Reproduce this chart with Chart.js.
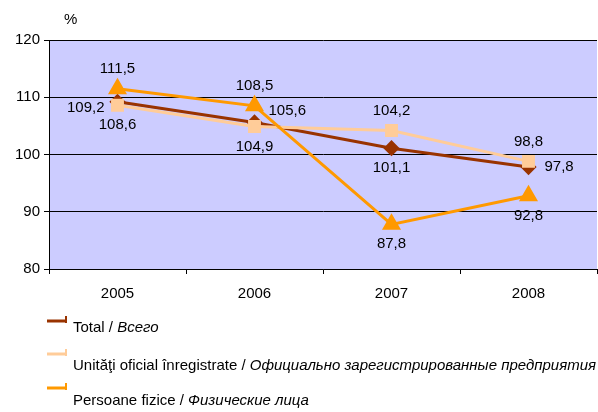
<!DOCTYPE html>
<html>
<head>
<meta charset="utf-8">
<script src="https://cdn.jsdelivr.net/npm/chart.js@4"></script>
<style>
  html, body { margin: 0; padding: 0; background: #fff; }
  #wrap { position: relative; width: 598px; height: 412px; }
</style>
</head>
<body>
<div id="wrap"><canvas id="myChart" width="598" height="412"></canvas></div>
<script>
  // Datos
  var years = ['2005', '2006', '2007', '2008'];
  var total = [109.2, 105.6, 101.1, 97.8];
  var oficial = [108.6, 104.9, 104.2, 98.8];
  var fizice = [111.5, 108.5, 87.8, 92.8];
  var yTicks = [80, 90, 100, 110, 120];

  var names = [
    ['Total / ', 'Всего'],
    ['Unităţi oficial înregistrate / ', 'Официально зарегистрированные предприятия'],
    ['Persoane fizice / ', 'Физические лица']
  ];
  var colors = ['#993300', '#FFCC99', '#FF9900'];

  // where each value label sits next to its point
  var labelPos = [
    ['left', 'rightUp', 'below', 'right'],
    ['below', 'below', 'above', 'above'],
    ['above', 'above', 'below', 'below']
  ];

  var FONT = '"Liberation Sans", Arial, sans-serif';

  var bgPlugin = {
    id: 'bg',
    beforeDraw: function (chart) {
      var a = chart.chartArea, c = chart.ctx;
      c.save();
      c.fillStyle = '#CCCCFF';
      c.fillRect(a.left, a.top, a.right - a.left, a.bottom - a.top);
      c.restore();
    }
  };

  var labelPlugin = {
    id: 'valueLabels',
    afterDatasetsDraw: function (chart) {
      var c = chart.ctx;
      c.save();
      c.font = '15px ' + FONT;
      c.fillStyle = '#000';
      c.textBaseline = 'middle';
      chart.data.datasets.forEach(function (ds, i) {
        var meta = chart.getDatasetMeta(i);
        meta.data.forEach(function (pt, j) {
          var txt = ds.data[j].toFixed(1).replace('.', ',');
          var p = labelPos[i][j];
          var x = pt.x, y = pt.y;
          c.textAlign = 'center';
          if (p === 'above') y -= 20;
          if (p === 'below') y += 20;
          if (p === 'left') { c.textAlign = 'right'; x -= 13; y += 6; }
          if (p === 'right') { c.textAlign = 'left'; x += 16; }
          if (p === 'rightUp') { c.textAlign = 'left'; x += 14; y -= 12; }
          c.fillText(txt, x, y);
        });
      });
      // unit
      c.textAlign = 'left';
      c.fillText('%', 64, 20);
      c.restore();
    }
  };

  var legendPlugin = {
    id: 'customLegend',
    afterDraw: function (chart) {
      var c = chart.ctx;
      var lineY = [321, 354, 388];
      var textY = [328, 366, 401];
      c.save();
      c.textBaseline = 'middle';
      for (var i = 0; i < names.length; i++) {
        c.strokeStyle = colors[i];
        c.lineWidth = 3;
        c.beginPath();
        c.moveTo(47, lineY[i]);
        c.lineTo(66, lineY[i]);
        c.stroke();
        c.lineWidth = 2;
        c.beginPath();
        c.moveTo(66, lineY[i] - 5);
        c.lineTo(66, lineY[i] + 2);
        c.stroke();
        c.fillStyle = '#000';
        c.font = '15px ' + FONT;
        c.fillText(names[i][0], 73, textY[i]);
        var w = c.measureText(names[i][0]).width;
        c.font = 'italic 15px ' + FONT;
        c.fillText(names[i][1], 73 + w, textY[i]);
      }
      c.restore();
    }
  };

  var data = {
    labels: years,
    datasets: [
      { label: names[0].join(''), data: total, borderColor: colors[0], backgroundColor: colors[0],
        borderWidth: 3, pointStyle: 'rectRot', pointRadius: 6, order: 2 },
      { label: names[1].join(''), data: oficial, borderColor: colors[1], backgroundColor: colors[1],
        borderWidth: 3, pointStyle: 'rect', pointRadius: 7, order: 1 },
      { label: names[2].join(''), data: fizice, borderColor: colors[2], backgroundColor: colors[2],
        borderWidth: 3, pointStyle: 'triangle', pointRadius: 8, order: 0 }
    ]
  };

  var options = {
    responsive: false,
    animation: false,
    layout: { autoPadding: false, padding: { top: 40, right: 1, left: 0, bottom: 0 } },
    plugins: { legend: { display: false }, tooltip: { enabled: false } },
    elements: { line: { tension: 0 } },
    scales: {
      x: {
        offset: true,
        grid: { offset: true, drawOnChartArea: false, color: '#000', tickLength: 5 },
        border: { color: '#000', width: 1 },
        ticks: { color: '#000', font: { family: FONT, size: 15 }, padding: 11 },
        afterFit: function (s) { s.height = 143; s.paddingLeft = 0; s.paddingRight = 0; }
      },
      y: {
        min: 80, max: 120,
        afterBuildTicks: function (s) { s.ticks = yTicks.map(function (v) { return { value: v }; }); },
        grid: { color: '#000', lineWidth: 1, tickLength: 5 },
        border: { color: '#000', width: 1 },
        ticks: { color: '#000', font: { family: FONT, size: 15 }, padding: 4 },
        afterFit: function (s) { s.width = 49; s.paddingTop = 0; s.paddingBottom = 0; }
      }
    }
  };

  var ctx = document.getElementById('myChart').getContext('2d');
  var myChart = new Chart(ctx, {
    type: 'line',
    data: data,
    options: options,
    plugins: [bgPlugin, labelPlugin, legendPlugin]
  });
</script>
</body>
</html>
